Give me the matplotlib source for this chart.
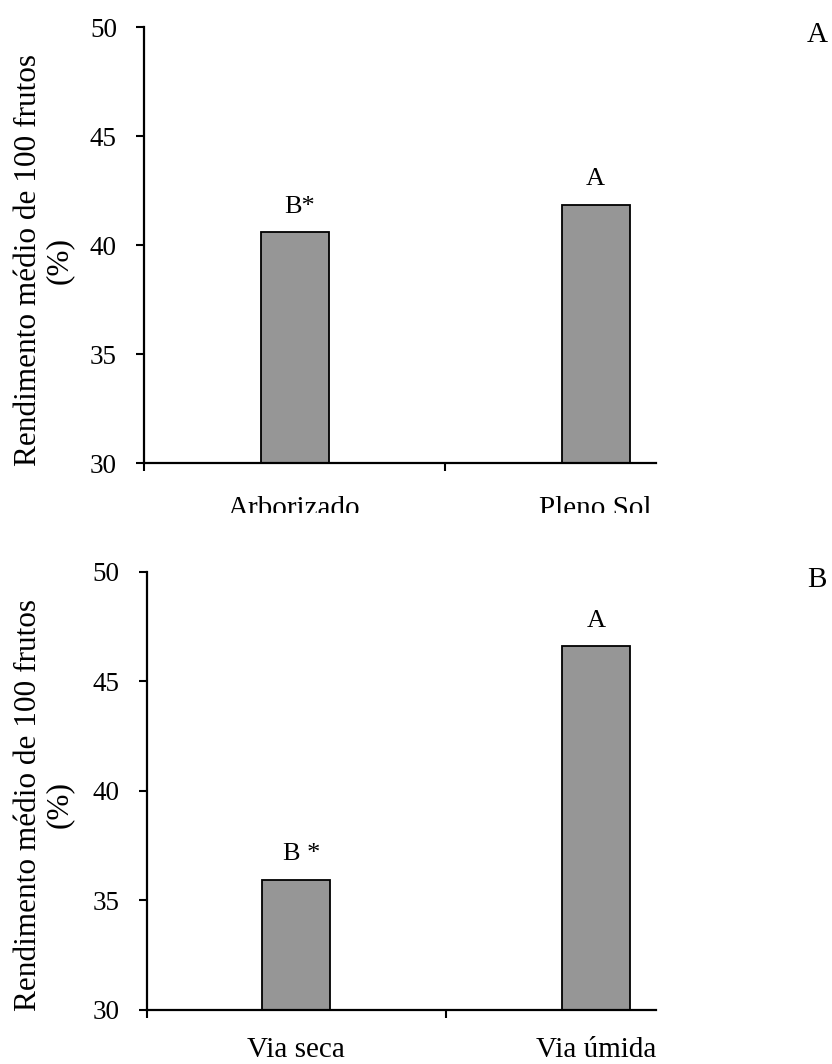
import matplotlib as mpl
mpl.use('Agg')
import matplotlib.pyplot as plt
from matplotlib.transforms import Bbox, TransformedBbox
import numpy as np

plt.rcParams['font.family'] = ['Liberation Serif', 'DejaVu Serif']

# Panel A - shading system
catsA = ['Arborizado', 'Pleno Sol']
valsA = [40.6, 41.85]
letA = ['B*', 'A']

# Panel B - processing method
catsB = ['Via seca', 'Via úmida']
valsB = [35.95, 46.6]
letB = ['B *', 'A']

ylab = 'Rendimento médio de 100 frutos\n(%)'
barColor = '#969696'

fig = plt.figure(figsize=(8.32, 10.64), dpi=100)
axA = fig.add_axes([0.1731, 0.5644, 0.7236, 0.4102])
axB = fig.add_axes([0.1761, 0.0508, 0.7200, 0.4117])


def drawPanel(ax, cats, vals, lets, catOffset=-37.5, clip=None):
    x = np.arange(len(cats)) + 0.5
    ax.bar(x, vals, width=0.226, bottom=0, color=barColor,
           edgecolor='black', linewidth=1.3, zorder=2)
    ax.set_xlim(0, 2)
    ax.set_ylim(30, 50)
    ax.set_yticks(np.arange(30, 51, 5))
    ax.set_xticks([0, 1])
    ax.set_xticklabels([])

    for side in ['top', 'right']:
        ax.spines[side].set_visible(False)
    ax.spines['left'].set_linewidth(1.6)
    ax.spines['bottom'].set_linewidth(1.6)
    ax.spines['bottom'].set_bounds(0, 1.70)
    ax.tick_params(axis='both', direction='out', length=5.5, width=1.5)
    ax.tick_params(axis='y', labelsize=19.5, pad=14)

    for xi, v, lab in zip(x, vals, lets):
        dx = 4 if '*' in lab else 0
        ax.annotate(lab, xy=(xi, v), xytext=(dx, 14), textcoords='offset points',
                    ha='center', va='baseline', fontsize=19)

    for xi, c in zip(x, cats):
        t = ax.annotate(c, xy=(xi, 0), xycoords=('data', 'axes fraction'),
                        xytext=(0, catOffset), textcoords='offset points',
                        ha='center', va='baseline', fontsize=21,
                        annotation_clip=False)
        if clip is not None:
            t.set_clip_box(TransformedBbox(Bbox([[0, clip], [1, 1]]), fig.transFigure))
            t.set_clip_on(True)


drawPanel(axA, catsA, valsA, letA, clip=1 - 513 / 1064)
drawPanel(axB, catsB, valsB, letB, catOffset=-34)

# y labels and panel tags
fig.text(44 / 832, 1 - 260 / 1064, ylab, rotation=90, ha='center', va='center',
         multialignment='center', fontsize=22.5, linespacing=1.1)
fig.text(44 / 832, 1 - 805 / 1064, ylab, rotation=90, ha='center', va='center',
         multialignment='center', fontsize=22.5, linespacing=1.1)
fig.text(817 / 832, 1 - 42 / 1064, 'A', ha='center', va='baseline', fontsize=21)
fig.text(817 / 832, 1 - 587 / 1064, 'B', ha='center', va='baseline', fontsize=21)

fig.savefig('out.png', dpi=100)
plt.close()
